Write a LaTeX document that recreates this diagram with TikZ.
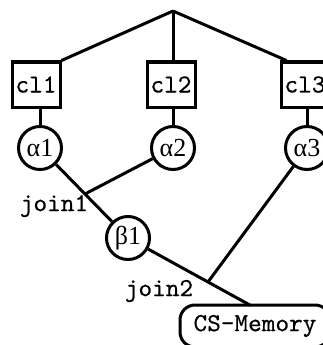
\documentclass[tikz,border=0pt]{standalone}
\usepackage{fontspec}
\setmainfont{Liberation Serif}
\newfontfamily\typefont[FakeBold=0.5]{lmmono10-regular.otf}
\usetikzlibrary{calc}
\begin{document}
\begin{tikzpicture}[x=1pt,y=-1pt,line width=3pt,
  tt/.style={font=\typefont\fontsize{26}{30}\selectfont},
  clbox/.style={draw,fill=white,minimum width=48pt,minimum height=45pt,inner sep=0pt,tt},
  symb/.style={draw,fill=white,circle,minimum size=43pt,inner sep=0pt,font=\fontsize{26}{30}\selectfont},
  memo/.style={draw,fill=white,rounded corners=15pt,minimum width=150pt,minimum height=42pt,inner sep=0pt,tt},
  lbl/.style={inner sep=0pt,tt}]
\clip (0,0) rectangle (323,345);
\fill[white] (0,0) rectangle (323,345);

% fork point and junctions
\coordinate (top) at (173,11);
\coordinate (j1) at (85,194);
\coordinate (j2) at (208,282);

% classes
\node[clbox] (cl1) at (36,84.5) {cl1};
\node[clbox] (cl2) at (171,84.5) {cl2};
\node[clbox] (cl3) at (305,84.5) {cl3};

% symbols
\node[symb] (a1) at (40,148) {α1};
\node[symb] (a2) at (173,148) {α2};
\node[symb] (a3) at (307,148) {α3};
\node[symb] (b1) at (128,238) {β1};

% memory
\node[memo] (cs) at (255,326) {CS-Memory};
\coordinate (csin) at ($(b1)!1.53!(j2)$);

% connectors
\draw (top) -- (cl1.north east);
\draw (top) -- (top |- cl2.north);
\draw (top) -- ([xshift=7pt]cl3.north west);
\draw (cl1.south -| a1) -- (a1);
\draw (cl2.south -| a2) -- (a2);
\draw (cl3.south -| a3) -- (a3);
\draw (a1) -- (b1);
\draw (a2) -- (j1);
\draw (b1) -- (j2) -- (csin);
\draw (a3) -- (j2);

% join labels
\node[lbl] (l1) at (54,206) {join1};
\node[lbl] (l2) at (159,291) {join2};
\end{tikzpicture}
\end{document}
